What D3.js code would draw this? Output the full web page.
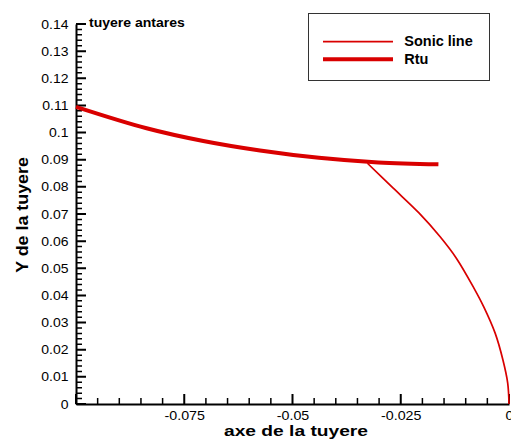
<!DOCTYPE html>
<html>
<head>
<meta charset="utf-8">
<script src="https://cdn.jsdelivr.net/npm/d3@7"></script>
<style>
  html, body { margin: 0; padding: 0; background: #fff; }
  svg { display: block; }
  text { font-family: "Liberation Sans", Arial, sans-serif; }
</style>
</head>
<body>
<svg id="chart" width="511" height="441"></svg>
<script>
// Nozzle wall contour (Rtu): axial position x, radius y
const rtuX = [-0.1, -0.0837, -0.0706, -0.0575, -0.0439, -0.0302, -0.0163];
const rtuY = [0.1095, 0.1016, 0.0969, 0.0934, 0.0907, 0.0890, 0.0883];

// Sonic line from the wall down to the axis
const sonicX = [-0.0327, -0.0268, -0.0208, -0.0159, -0.0122, -0.0081, -0.0058, -0.0032, -0.0014, -0.0003, 0];
const sonicY = [0.0887, 0.0796, 0.0704, 0.0616, 0.0538, 0.0427, 0.0357, 0.0261, 0.0162, 0.0077, 0];

// Axis ticks
const xMajorTicks = [-0.1, -0.075, -0.05, -0.025, 0];
const xTickLabels = ["", "-0.075", "-0.05", "-0.025", "0"];
const yMajorTicks = [0, 0.01, 0.02, 0.03, 0.04, 0.05, 0.06, 0.07, 0.08, 0.09, 0.1, 0.11, 0.12, 0.13, 0.14];
const yTickLabels = ["0", "0.01", "0.02", "0.03", "0.04", "0.05", "0.06", "0.07", "0.08", "0.09", "0.1", "0.11", "0.12", "0.13", "0.14"];
const xMinorTicks = [-0.095, -0.09, -0.085, -0.08, -0.07, -0.065, -0.06, -0.055, -0.045, -0.04, -0.035, -0.03, -0.02, -0.015, -0.01, -0.005];
const yMinorTicks = d3.range(0, 141, 2).filter(v => v % 10 !== 0).map(v => v / 1000);

const seriesNames = ["Sonic line", "Rtu"];
const plotTitle = "tuyere antares";
const xTitle = "axe de la tuyere";
const yTitle = "Y de la tuyere";

const red = "#d90000";
const svg = d3.select("#chart");

const x = d3.scaleLinear().domain([-0.1, 0]).range([76, 509]);
const y = d3.scaleLinear().domain([0, 0.14]).range([404, 24]);
const x0 = x.range()[0];
const y0 = y.range()[0];

// Tick marks pointing into the plot area
const tickPath = (pts) => pts.map(p => `M${p[0]},${p[1]}L${p[2]},${p[3]}`).join("");
svg.append("path")
  .attr("d", tickPath(xMinorTicks.map(d => [x(d), y0, x(d), y0 - 6])))
  .attr("stroke", "#000").attr("stroke-width", 1.5).attr("fill", "none");
svg.append("path")
  .attr("d", tickPath(yMinorTicks.map(d => [x0, y(d), x0 + 6, y(d)])))
  .attr("stroke", "#000").attr("stroke-width", 1.5).attr("fill", "none");
svg.append("path")
  .attr("d", tickPath(xMajorTicks.map(d => [x(d), y0, x(d), y0 - 10])))
  .attr("stroke", "#000").attr("stroke-width", 2).attr("fill", "none");
svg.append("path")
  .attr("d", tickPath(yMajorTicks.map(d => [x0, y(d), x0 + 10, y(d)])))
  .attr("stroke", "#000").attr("stroke-width", 2).attr("fill", "none");

// Axis lines and tick labels
const xAxis = svg.append("g")
  .attr("transform", `translate(0,${y0})`)
  .call(d3.axisBottom(x).tickValues(xMajorTicks).tickSize(0).tickPadding(7)
    .tickFormat((d, i) => xTickLabels[i]));
xAxis.select(".domain").attr("stroke", "#000").attr("stroke-width", 2);
xAxis.selectAll("text")
  .attr("font-size", 12.5).attr("fill", "#000")
  .attr("font-family", "'Liberation Sans', Arial, sans-serif")
  .attr("transform", "scale(1.14,1)");

const yAxis = svg.append("g")
  .attr("transform", `translate(${x0},0)`)
  .call(d3.axisLeft(y).tickValues(yMajorTicks).tickSize(0).tickPadding(7)
    .tickFormat((d, i) => yTickLabels[i]));
yAxis.select(".domain").attr("stroke", "#000").attr("stroke-width", 2);
yAxis.selectAll("text")
  .attr("font-size", 12.5).attr("fill", "#000")
  .attr("font-family", "'Liberation Sans', Arial, sans-serif")
  .attr("x", null)
  .attr("transform", "translate(-7.5,0) scale(1.12,1)");

// Curves
const line = d3.line().x(d => x(d[0])).y(d => y(d[1])).curve(d3.curveCatmullRom.alpha(0.5));

svg.append("path")
  .datum(d3.zip(rtuX, rtuY))
  .attr("d", line)
  .attr("fill", "none")
  .attr("stroke", red)
  .attr("stroke-width", 4)
  .attr("stroke-linejoin", "round");

svg.append("path")
  .datum(d3.zip(sonicX, sonicY))
  .attr("d", line)
  .attr("fill", "none")
  .attr("stroke", red)
  .attr("stroke-width", 1.7)
  .attr("stroke-linejoin", "round");

// Titles
svg.append("text")
  .attr("transform", "translate(89,26.5) scale(1.17,1)")
  .attr("font-size", 12).attr("font-weight", "bold")
  .text(plotTitle);

svg.append("text")
  .attr("transform", "translate(296,435.7) scale(1.28,1)")
  .attr("text-anchor", "middle")
  .attr("font-size", 15).attr("font-weight", "bold")
  .text(xTitle);

svg.append("text")
  .attr("transform", `translate(28,215) rotate(-90) scale(1.19,1.05)`)
  .attr("text-anchor", "middle")
  .attr("font-size", 15).attr("font-weight", "bold")
  .text(yTitle);

// Legend
const legend = svg.append("g");
legend.append("rect")
  .attr("x", 308.5).attr("y", 13.5).attr("width", 181).attr("height", 67)
  .attr("fill", "#fff").attr("stroke", "#333").attr("stroke-width", 1);

const legendWidths = [1.7, 4];
seriesNames.forEach((name, i) => {
  const ly = 41.7 + i * 17.6;
  legend.append("line")
    .attr("x1", 323).attr("x2", 393).attr("y1", ly).attr("y2", ly)
    .attr("stroke", red).attr("stroke-width", legendWidths[i]);
  legend.append("text")
    .attr("x", 404.3).attr("y", ly + 4.5)
    .attr("font-size", 14.5).attr("font-weight", "bold")
    .text(name);
});
</script>
</body>
</html>
